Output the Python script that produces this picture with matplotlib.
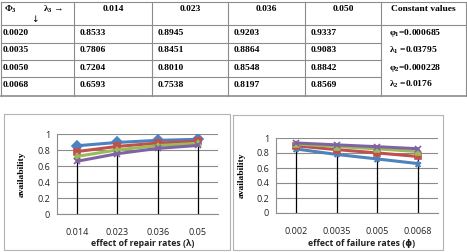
import matplotlib.pyplot as plt

plt.rcParams["mathtext.fontset"] = "custom"
plt.rcParams["mathtext.rm"] = "Liberation Serif:bold"
plt.rcParams["mathtext.it"] = "Liberation Serif:bold"
plt.rcParams["mathtext.bf"] = "Liberation Serif:bold"
plt.rcParams["mathtext.default"] = "rm"

# table data: rows = phi3, columns = lambda3
lam3 = ["0.014", "0.023", "0.036", "0.050"]
phi3 = ["0.0020", "0.0035", "0.0050", "0.0068"]
avail = [
    [0.8533, 0.8945, 0.9203, 0.9337],
    [0.7806, 0.8451, 0.8864, 0.9083],
    [0.7204, 0.8010, 0.8548, 0.8842],
    [0.6593, 0.7538, 0.8197, 0.8569],
]
constants = ["φ$_1$=0.000685", "λ$_1$ =0.03795", "φ$_2$=0.000228", "λ$_2$ =0.0176"]

lam_ticks = ["0.014", "0.023", "0.036", "0.05"]
phi_ticks = ["0.002", "0.0035", "0.005", "0.0068"]

colors = ["#4F81BD", "#C0504D", "#9BBB59", "#8064A2"]
W, H = 467, 252

fig = plt.figure(figsize=(W / 100, H / 100), dpi=100)
bg = fig.add_axes([0, 0, 1, 1])
bg.set_xlim(0, W)
bg.set_ylim(H, 0)
bg.axis("off")

serif = dict(family=["Liberation Serif", "DejaVu Serif"], weight="bold", size=6.8)

# table grid
col_x = [1, 74, 152, 228, 305, 381, 466]
row_y = [2, 25, 43, 60, 77, 96]
lc = "#8c8c8c"
bg.plot([col_x[0], col_x[-1]], [row_y[0]] * 2, color=lc, lw=0.8)
bg.plot([col_x[0], col_x[-1]], [row_y[-1]] * 2, color=lc, lw=1.2)
bg.plot([col_x[0], col_x[-1]], [row_y[1]] * 2, color=lc, lw=0.8)
for y in row_y[2:-1]:
    bg.plot([col_x[0], col_x[-2]], [y, y], color=lc, lw=0.8)
for x in col_x:
    bg.plot([x, x], [row_y[0], row_y[-1]], color=lc, lw=0.8)

# header
bg.text(4, 9, "Φ$_3$", ha="left", va="center", **serif)
bg.text(43, 9, "λ$_3$ →", ha="left", va="center", **serif)
bg.text(35, 20, "↓", ha="center", va="center", family="DejaVu Sans", size=6.5)
for j, lab in enumerate(lam3):
    bg.text((col_x[j + 1] + col_x[j + 2]) / 2, 9, lab, ha="center", va="center", **serif)
bg.text((col_x[5] + col_x[6]) / 2, 9, "Constant values", ha="center", va="center", **serif)

row_c = [33, 50, 68, 85]
for i, p in enumerate(phi3):
    bg.text(3, row_c[i], p, ha="left", va="center", **serif)
    for j in range(4):
        bg.text(col_x[j + 1] + 6, row_c[i], f"{avail[i][j]:.4f}", ha="left", va="center", **serif)
const_y = [33, 50, 68, 84]
for k, c in enumerate(constants):
    bg.text(col_x[5] + 8, const_y[k], c, ha="left", va="center", **serif)

# chart boxes
bc = "#b4b4b4"
for (x0, y0, x1, y1) in [(4, 114, 230, 250), (233, 115, 443, 250)]:
    bg.plot([x0, x1, x1, x0, x0], [y0, y0, y1, y1, y0], color=bc, lw=0.8)


def make_chart(px0, px1, py0, py1, series, ticks, xlabel, markers, ylab_x):
    ax = fig.add_axes([px0 / W, 1 - py1 / H, (px1 - px0) / W, (py1 - py0) / H])
    ax.set_facecolor("none")
    n = len(ticks)
    xs = list(range(n))
    # drop lines
    for k in xs:
        top = max(s[k] for s in series)
        ax.plot([k, k], [0, top], color="black", lw=0.9, zorder=2)
    for s, c, m in zip(series, colors, markers):
        ax.plot(xs, s, color=c, lw=2.2, marker=m, ms=5, mec=c, mfc=c, mew=1.2, zorder=3)
    ax.set_xlim(-0.5, n - 0.5)
    ax.set_ylim(0, 1)
    ax.set_yticks([0, 0.2, 0.4, 0.6, 0.8, 1.0])
    ax.set_yticklabels(["0", "0.2", "0.4", "0.6", "0.8", "1"])
    ax.set_xticks(xs)
    ax.set_xticklabels(ticks)
    ax.grid(axis="y", color="#8c8c8c", lw=0.8)
    ax.set_axisbelow(True)
    for sp in ["top", "right"]:
        ax.spines[sp].set_visible(False)
    for sp in ["left", "bottom"]:
        ax.spines[sp].set_color("#8c8c8c")
        ax.spines[sp].set_linewidth(0.8)
    ax.tick_params(axis="both", length=0, labelsize=6.5, colors="#222222", labelfontfamily="Open Sans")
    ax.tick_params(axis="x", pad=10)
    ax.tick_params(axis="y", pad=5)
    bg.text((px0 + px1) / 2 + 5, 243, xlabel, ha="center", va="center",
            family=["Open Sans", "DejaVu Sans"], weight="bold", size=6.3, color="#222222")
    bg.text(ylab_x, (py0 + py1) / 2, "availability", ha="center", va="center",
            rotation=90, **serif)
    return ax


left_series = avail
right_series = [[avail[i][j] for i in range(4)] for j in range(4)]

make_chart(57, 218, 134, 214, left_series, lam_ticks, "effect of repair rates (λ)",
           ["D", "s", "^", "x"], 22)
make_chart(276, 438, 138, 213, right_series, phi_ticks, "effect of failure rates (ϕ)",
           ["*", "s", "^", "x"], 242)

fig.savefig("out.png", dpi=100)
